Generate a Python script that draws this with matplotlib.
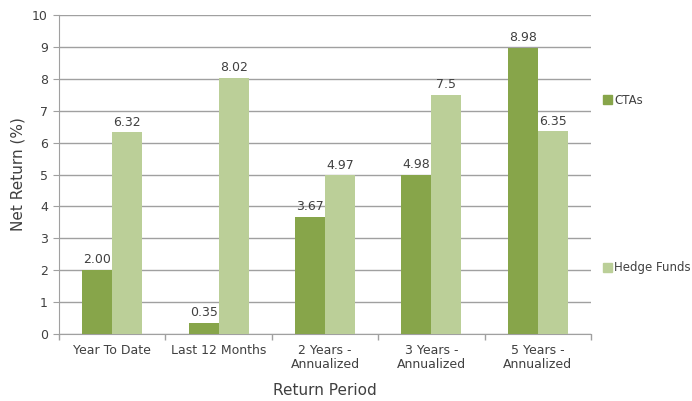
import numpy as np
import matplotlib.pyplot as plt
from matplotlib.patches import Patch

periods = ["Year To Date", "Last 12 Months", "2 Years -\nAnnualized",
           "3 Years -\nAnnualized", "5 Years -\nAnnualized"]
cta_labels = ["2.00", "0.35", "3.67", "4.98", "8.98"]
hedge_labels = ["6.32", "8.02", "4.97", "7.5", "6.35"]
cta_values = [float(s) for s in cta_labels]
hedge_values = [float(s) for s in hedge_labels]

cta_color = "#87A54A"
hedge_color = "#BBCF98"
text_color = "#404040"
grid_color = "#A0A0A0"

plt.rcParams["font.family"] = "DejaVu Sans"

fig, ax = plt.subplots(figsize=(6.92, 4.01), dpi=100)
fig.subplots_adjust(left=0.0853, right=0.854, top=0.9626, bottom=0.167)

x = np.arange(len(periods))
w = 0.282
bars1 = ax.bar(x - w / 2, cta_values, w, color=cta_color, zorder=3)
bars2 = ax.bar(x + w / 2, hedge_values, w, color=hedge_color, zorder=3)

for bars, labels in [(bars1, cta_labels), (bars2, hedge_labels)]:
    for b, lab in zip(bars, labels):
        ax.text(b.get_x() + b.get_width() / 2, b.get_height() + 0.12, lab,
                ha="center", va="bottom", fontsize=9, color=text_color)

ax.set_xlim(-0.5, len(periods) - 0.5)
ax.set_ylim(0, 10)
ax.set_yticks(range(0, 11))
ax.set_xticks(x)
ax.set_xticklabels(periods, fontsize=9, color=text_color, linespacing=1.1)
ax.set_xticks(np.arange(-0.5, len(periods)), minor=True)
ax.tick_params(axis="x", which="major", length=0, pad=7)
ax.tick_params(axis="x", which="minor", length=4, color=grid_color, width=1)
ax.tick_params(axis="y", length=4, color=grid_color, labelsize=9,
               labelcolor=text_color, pad=4)

ax.grid(axis="y", color=grid_color, lw=1, zorder=0)
for side in ["top", "right"]:
    ax.spines[side].set_visible(False)
for side in ["left", "bottom"]:
    ax.spines[side].set_color(grid_color)

ax.set_xlabel("Return Period", fontsize=11, color=text_color, labelpad=9)
ax.set_ylabel("Net Return (%)", fontsize=11, color=text_color, labelpad=5)

handles = [Patch(color=cta_color, label="CTAs"),
           Patch(color=hedge_color, label="Hedge Funds")]
fig.legend(handles=handles, loc="upper left", bbox_to_anchor=(0.866, 0.775),
           frameon=False, fontsize=8.5, labelspacing=13.1, handlelength=0.75,
           handleheight=0.75, handletextpad=0.2, labelcolor=text_color,
           borderaxespad=0, borderpad=0.3)

plt.savefig("out.png", dpi=100)
